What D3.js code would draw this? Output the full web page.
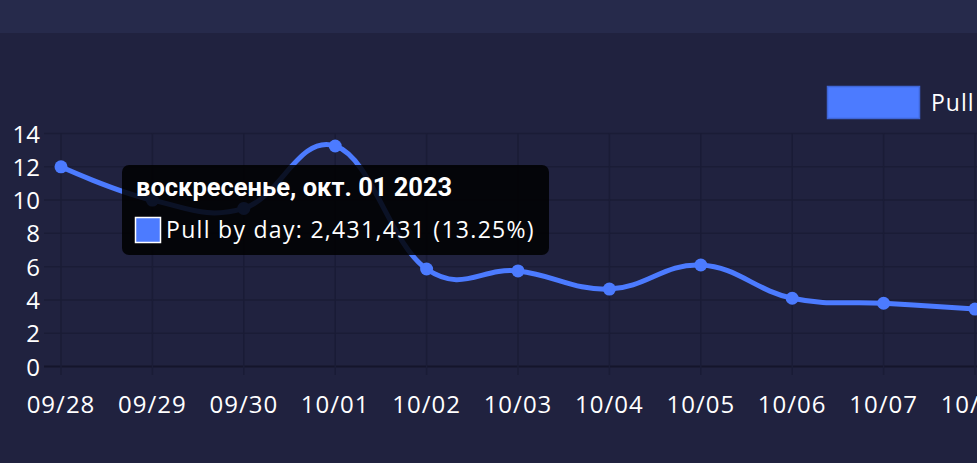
<!DOCTYPE html>
<html>
<head>
<meta charset="utf-8">
<script src="https://cdn.jsdelivr.net/npm/d3@7"></script>
<style>
  html, body { margin: 0; padding: 0; background: #20223f; overflow: hidden; }
  svg { display: block; }
</style>
</head>
<body>
<script>
// chart data
var days = ["09/28", "09/29", "09/30", "10/01", "10/02", "10/03", "10/04", "10/05", "10/06", "10/07", "10/08"];
var pullPct = [12.0, 10.0, 9.5, 13.25, 5.86, 5.74, 4.65, 6.1, 4.1, 3.8, 3.45];
var yTicks = [0, 2, 4, 6, 8, 10, 12, 14];
var seriesName = "Pull by day";
var tipIndex = 3;
var tipTitle = "воскресенье, окт. 01 2023";
var tipCount = 2431431;

var width = 977, height = 463;
var font = "'Open Sans', sans-serif";
var lineColor = "#4c7bff";

var svg = d3.select("body").append("svg")
    .attr("width", width)
    .attr("height", height);

// background + top band
svg.append("rect").attr("width", width).attr("height", height).attr("fill", "#20223f");
svg.append("rect").attr("width", width).attr("height", 33).attr("fill", "#262a4b");

var x = d3.scaleLinear().domain([0, days.length - 1]).range([61, 975]);
var y = d3.scaleLinear().domain([0, 14]).range([366.5, 133.5]);

// grid
var grid = svg.append("g");
grid.selectAll("line.h")
    .data(yTicks)
    .enter()
    .append("line")
    .attr("x1", 44).attr("x2", width + 200)
    .attr("y1", function (d) { return y(d); })
    .attr("y2", function (d) { return y(d); })
    .attr("stroke", function (d) { return d === 0 ? "#14152b" : "#1a1c36"; })
    .attr("stroke-width", function (d) { return d === 0 ? 2 : 1.5; });

grid.selectAll("line.v")
    .data(days)
    .enter()
    .append("line")
    .attr("x1", function (d, i) { return x(i); })
    .attr("x2", function (d, i) { return x(i); })
    .attr("y1", y(14)).attr("y2", 375)
    .attr("stroke", "#1a1c36")
    .attr("stroke-width", 1.5);

// y labels
svg.selectAll("text.ytick")
    .data(yTicks)
    .enter()
    .append("text")
    .attr("x", 40)
    .attr("y", function (d) { return y(d) + 9; })
    .attr("text-anchor", "end")
    .attr("fill", "#ffffff")
    .style("font", "24px " + font)
    .text(function (d) { return d; });

// x labels
svg.selectAll("text.xtick")
    .data(days)
    .enter()
    .append("text")
    .attr("x", function (d, i) { return x(i); })
    .attr("y", 413)
    .attr("text-anchor", "middle")
    .attr("fill", "#ffffff")
    .style("font", "24px " + font)
    .style("letter-spacing", "1px")
    .text(function (d) { return d; });

// line
var line = d3.line()
    .x(function (d, i) { return x(i); })
    .y(function (d) { return y(d); })
    .curve(d3.curveCardinal.tension(-0.2));

svg.append("path")
    .datum(pullPct)
    .attr("d", line)
    .attr("fill", "none")
    .attr("stroke", lineColor)
    .attr("stroke-width", 5)
    .attr("stroke-linecap", "round");

svg.selectAll("circle.pt")
    .data(pullPct)
    .enter()
    .append("circle")
    .attr("cx", function (d, i) { return x(i); })
    .attr("cy", function (d) { return y(d); })
    .attr("r", 6.5)
    .attr("fill", lineColor);

// legend
var legend = svg.append("g");
legend.append("rect")
    .attr("x", 827.5).attr("y", 86.5)
    .attr("width", 92).attr("height", 32)
    .attr("fill", lineColor)
    .attr("stroke", "#3f66d6")
    .attr("stroke-width", 1.5);
legend.append("text")
    .attr("x", 931).attr("y", 111)
    .attr("fill", "#ffffff")
    .style("font", "23px " + font)
    .style("letter-spacing", "1px")
    .text(seriesName);

// tooltip
var tip = svg.append("g");
tip.append("rect")
    .attr("x", 122).attr("y", 165)
    .attr("width", 427).attr("height", 90)
    .attr("rx", 7)
    .attr("fill", "#000000")
    .attr("fill-opacity", 0.85);
tip.append("text")
    .attr("x", 136).attr("y", 196)
    .attr("fill", "#ffffff")
    .style("font", "bold 25.5px Roboto, sans-serif")
    .text(tipTitle);
tip.append("rect")
    .attr("x", 135.5).attr("y", 217.5)
    .attr("width", 25).attr("height", 25)
    .attr("fill", lineColor)
    .attr("stroke", "#ffffff")
    .attr("stroke-width", 1.5);
tip.append("text")
    .attr("x", 166).attr("y", 238)
    .attr("fill", "#ffffff")
    .style("font", "23px " + font)
    .style("letter-spacing", "1.3px")
    .text(seriesName + ": " + d3.format(",")(tipCount) + " (" + pullPct[tipIndex].toFixed(2) + "%)");
</script>
</body>
</html>
